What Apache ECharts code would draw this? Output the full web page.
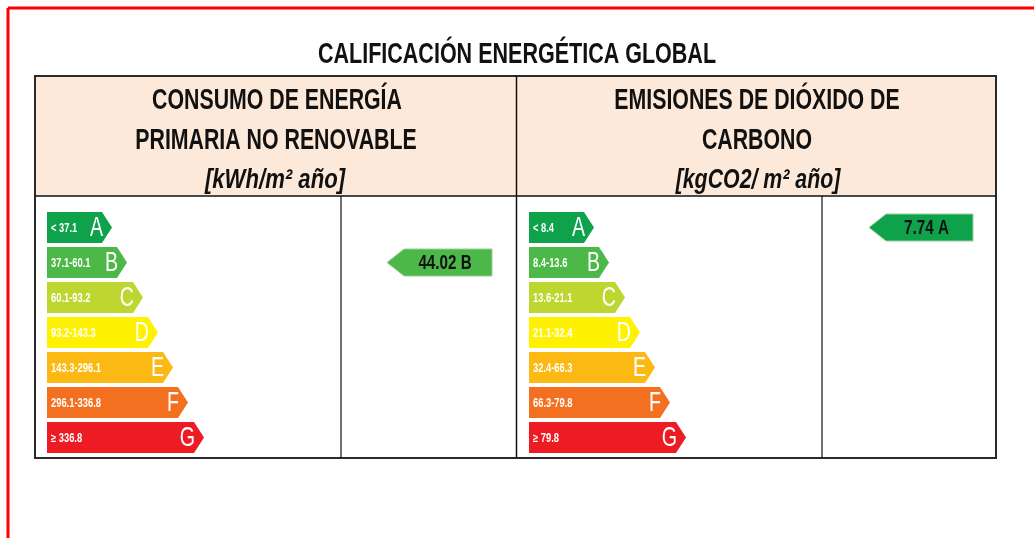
<!DOCTYPE html>
<html>
<head>
<meta charset="utf-8">
<script src="https://cdn.jsdelivr.net/npm/echarts@6/dist/echarts.min.js"></script>
<style>
html, body { margin: 0; padding: 0; background: #fff; }
#main { width: 1034px; height: 538px; }
</style>
</head>
<body>
<div id="main"></div>
<script>
var classes = ['A', 'B', 'C', 'D', 'E', 'F', 'G'];
var classColors = ['#0ea24b', '#4cb848', '#bed630', '#fff200', '#fdb913', '#f37021', '#ed1c24'];
var barLength = [65, 80, 96, 111, 126, 141, 157];
var energyRanges = ['< 37.1', '37.1-60.1', '60.1-93.2', '93.2-143.3', '143.3-296.1', '296.1-336.8', '\u2265 336.8'];
var co2Ranges = ['< 8.4', '8.4-13.6', '13.6-21.1', '21.1-32.4', '32.4-66.3', '66.3-79.8', '\u2265 79.8'];
var energyValue = 44.02, energyClass = 'B';
var co2Value = 7.74, co2Class = 'A';

var FONT = "'Liberation Sans', Arial, sans-serif";

var barData = classes.map(function (c, i) { return [barLength[i], i]; });

function barRenderer(ranges) {
    return function (params, api) {
        var i = api.value(1);
        var start = api.coord([0, i]);
        var end = api.coord([api.value(0), i]);
        var h = api.size([0, 1])[1] * 0.88;
        var y0 = start[1] - h / 2, y1 = start[1] + h / 2;
        var tip = 10;
        return {
            type: 'group',
            children: [{
                type: 'polygon',
                shape: { points: [[start[0], y0], [end[0] - tip, y0], [end[0], start[1]], [end[0] - tip, y1], [start[0], y1]] },
                style: { fill: classColors[i] }
            }, {
                type: 'text',
                x: start[0] + 4, y: start[1] + 1, scaleX: 0.78,
                style: { text: ranges[i], x: 0, y: 0, verticalAlign: 'middle', fill: '#fff',
                    font: 'bold 12px ' + FONT }
            }, {
                type: 'text',
                x: end[0] - 9, y: start[1] + 1, scaleX: 0.7,
                style: { text: classes[i], x: 0, y: 0, align: 'right', verticalAlign: 'middle',
                    fill: '#fff', font: '28px ' + FONT }
            }]
        };
    };
}

function indicatorRenderer(label, color) {
    return function (params, api) {
        var c = api.coord([0, api.value(1)]);
        var cs = params.coordSys;
        var h = 27, tip = 17;
        var x0 = cs.x, x1 = cs.x + cs.width;
        return {
            type: 'group',
            children: [{
                type: 'polygon',
                shape: { points: [[x0, c[1]], [x0 + tip, c[1] - h / 2], [x1, c[1] - h / 2], [x1, c[1] + h / 2], [x0 + tip, c[1] + h / 2]] },
                style: { fill: color, stroke: '#9ccc9c', lineWidth: 1 }
            }, {
                type: 'text',
                x: (x0 + tip + x1) / 2 - 3, y: c[1] + 1, scaleX: 0.76,
                style: { text: label, x: 0, y: 0, align: 'center', verticalAlign: 'middle',
                    fill: '#111', font: 'bold 20px ' + FONT }
            }]
        };
    };
}

function hText(text, x, y, sx, font) {
    return { type: 'text', x: x, y: y, scaleX: sx, style: { text: text, x: 0, y: 0, align: 'center', verticalAlign: 'middle',
        fill: '#111', font: font || ('bold 29px ' + FONT) } };
}

var grids = [
    { left: 47, top: 210, width: 294, height: 245 },
    { left: 387, top: 210, width: 105, height: 245 },
    { left: 529, top: 210, width: 294, height: 245 },
    { left: 869, top: 210, width: 104, height: 245 }
];

var myChart = echarts.init(document.getElementById('main'));
var option = {
    animation: false,
    grid: grids,
    xAxis: grids.map(function (g, i) {
        return { type: 'value', gridIndex: i, min: 0, max: g.width, show: false };
    }),
    yAxis: grids.map(function (g, i) {
        return { type: 'category', gridIndex: i, data: classes, inverse: true, show: false };
    }),
    graphic: [
        // red frame
        { type: 'line', shape: { x1: 8, y1: 8, x2: 1034, y2: 8 }, style: { stroke: '#ff0000', lineWidth: 3 } },
        { type: 'line', shape: { x1: 8, y1: 8, x2: 8, y2: 538 }, style: { stroke: '#ff0000', lineWidth: 3 } },
        // header background
        { type: 'rect', shape: { x: 35, y: 76, width: 961, height: 120 }, style: { fill: '#fde9d9' } },
        // table lines
        { type: 'rect', shape: { x: 35, y: 76, width: 961, height: 382 }, style: { fill: 'none', stroke: '#2a2a2a', lineWidth: 2 } },
        { type: 'line', shape: { x1: 35, y1: 196, x2: 996, y2: 196 }, style: { stroke: '#111', lineWidth: 1.5 } },
        { type: 'line', shape: { x1: 516.5, y1: 76, x2: 516.5, y2: 458 }, style: { stroke: '#111', lineWidth: 1.5 } },
        { type: 'line', shape: { x1: 341, y1: 196, x2: 341, y2: 458 }, style: { stroke: '#111', lineWidth: 1.2 } },
        { type: 'line', shape: { x1: 822, y1: 196, x2: 822, y2: 458 }, style: { stroke: '#111', lineWidth: 1.2 } },
        // titles
        hText('CALIFICACI\u00d3N ENERG\u00c9TICA GLOBAL', 517, 55, 0.742),
        hText('CONSUMO DE ENERG\u00cdA', 277, 101, 0.735),
        hText('PRIMARIA NO RENOVABLE', 276, 141, 0.735),
        hText('[kWh/m\u00b2 a\u00f1o]', 275, 181, 0.82, 'italic bold 27px ' + FONT),
        hText('EMISIONES DE DI\u00d3XIDO DE', 757, 101, 0.735),
        hText('CARBONO', 757, 141, 0.735),
        hText('[kgCO2/ m\u00b2 a\u00f1o]', 758, 181, 0.79, 'italic bold 27px ' + FONT)
    ],
    series: [{
        type: 'custom', xAxisIndex: 0, yAxisIndex: 0,
        renderItem: barRenderer(energyRanges), data: barData
    }, {
        type: 'custom', xAxisIndex: 1, yAxisIndex: 1,
        renderItem: indicatorRenderer(energyValue.toFixed(2) + ' ' + energyClass, classColors[classes.indexOf(energyClass)]),
        data: [[energyValue, classes.indexOf(energyClass)]]
    }, {
        type: 'custom', xAxisIndex: 2, yAxisIndex: 2,
        renderItem: barRenderer(co2Ranges), data: barData
    }, {
        type: 'custom', xAxisIndex: 3, yAxisIndex: 3,
        renderItem: indicatorRenderer(co2Value.toFixed(2) + ' ' + co2Class, classColors[classes.indexOf(co2Class)]),
        data: [[co2Value, classes.indexOf(co2Class)]]
    }]
};
myChart.setOption(option);
window.onresize = function () {
    myChart.resize();
};
</script>
</body>
</html>
